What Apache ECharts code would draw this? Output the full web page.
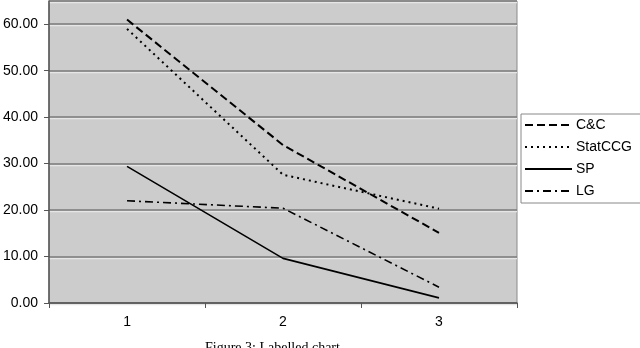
<!DOCTYPE html>
<html><head><meta charset="utf-8">
<script src="https://cdn.jsdelivr.net/npm/echarts@6/dist/echarts.min.js"></script>
<style>html,body{margin:0;padding:0;background:#fff}#c{width:640px;height:348px}</style>
</head><body><div id="c"></div>
<script>
const categories = ['1', '2', '3'];
const seriesNames = ['C&C', 'StatCCG', 'SP', 'LG'];
const ccValues = [61.0, 34.0, 15.1];
const statValues = [59.0, 27.6, 20.3];
const spValues = [29.4, 9.6, 1.1];
const lgValues = [22.0, 20.4, 3.4];
const caption = 'Figure 3: Labelled chart';

const font = 'Liberation Sans, Arial, sans-serif';
const dashes = [[8, 4], [2, 4], null, [8, 4, 2, 4]];
const widths = [2, 2, 1.6, 1.6];
const values = [ccValues, statValues, spValues, lgValues];

const chart = echarts.init(document.getElementById('c'), null, {renderer: 'canvas'});
chart.setOption({
  animation: false,
  grid: {left: 48, top: 1, right: 123, bottom: 45, show: true, backgroundColor: '#cccccc', borderColor: '#8a8a8a', borderWidth: 1},
  xAxis: {
    type: 'category', data: categories, boundaryGap: true,
    axisLine: {lineStyle: {color: '#555', width: 1.5}},
    axisTick: {show: true, length: 5, lineStyle: {color: '#555'}},
    axisLabel: {color: '#000', fontFamily: font, fontSize: 14, margin: 12}
  },
  yAxis: {
    type: 'value', min: 0, max: 65, interval: 10,
    axisLine: {show: true, lineStyle: {color: '#555', width: 1.5}},
    axisTick: {show: true, length: 5, lineStyle: {color: '#555'}},
    axisLabel: {color: '#000', fontFamily: font, fontSize: 14, margin: 11, showMaxLabel: false,
      formatter: v => (v % 10 === 0 ? v.toFixed(2) : '')},
    splitLine: {show: true, lineStyle: {color: '#7a7a7a', width: 1.5, shadowColor: '#e6e6e6', shadowBlur: 0, shadowOffsetY: 1.5}}
  },
  legend: {
    orient: 'vertical', left: 521, top: 114, width: 116,
    data: seriesNames,
    padding: [4, 10, 5, 3], itemGap: 8, itemWidth: 47, itemHeight: 14,
    borderColor: '#888', borderWidth: 1, backgroundColor: '#fff',
    itemStyle: {opacity: 0},
    textStyle: {color: '#000', fontFamily: font, fontSize: 14, padding: [0, 0, 0, -1]}
  },
  graphic: [{type: 'text', left: 205, top: 341, style: {text: caption, fill: '#000', font: '14px "Liberation Serif", "Times New Roman", serif'}}],
  series: seriesNames.map((n, i) => ({
    name: n, type: 'line', data: values[i], symbol: 'none',
    lineStyle: {color: '#000', width: widths[i], type: dashes[i] || 'solid'},
    itemStyle: {color: '#000'}
  }))
});
</script></body></html>
